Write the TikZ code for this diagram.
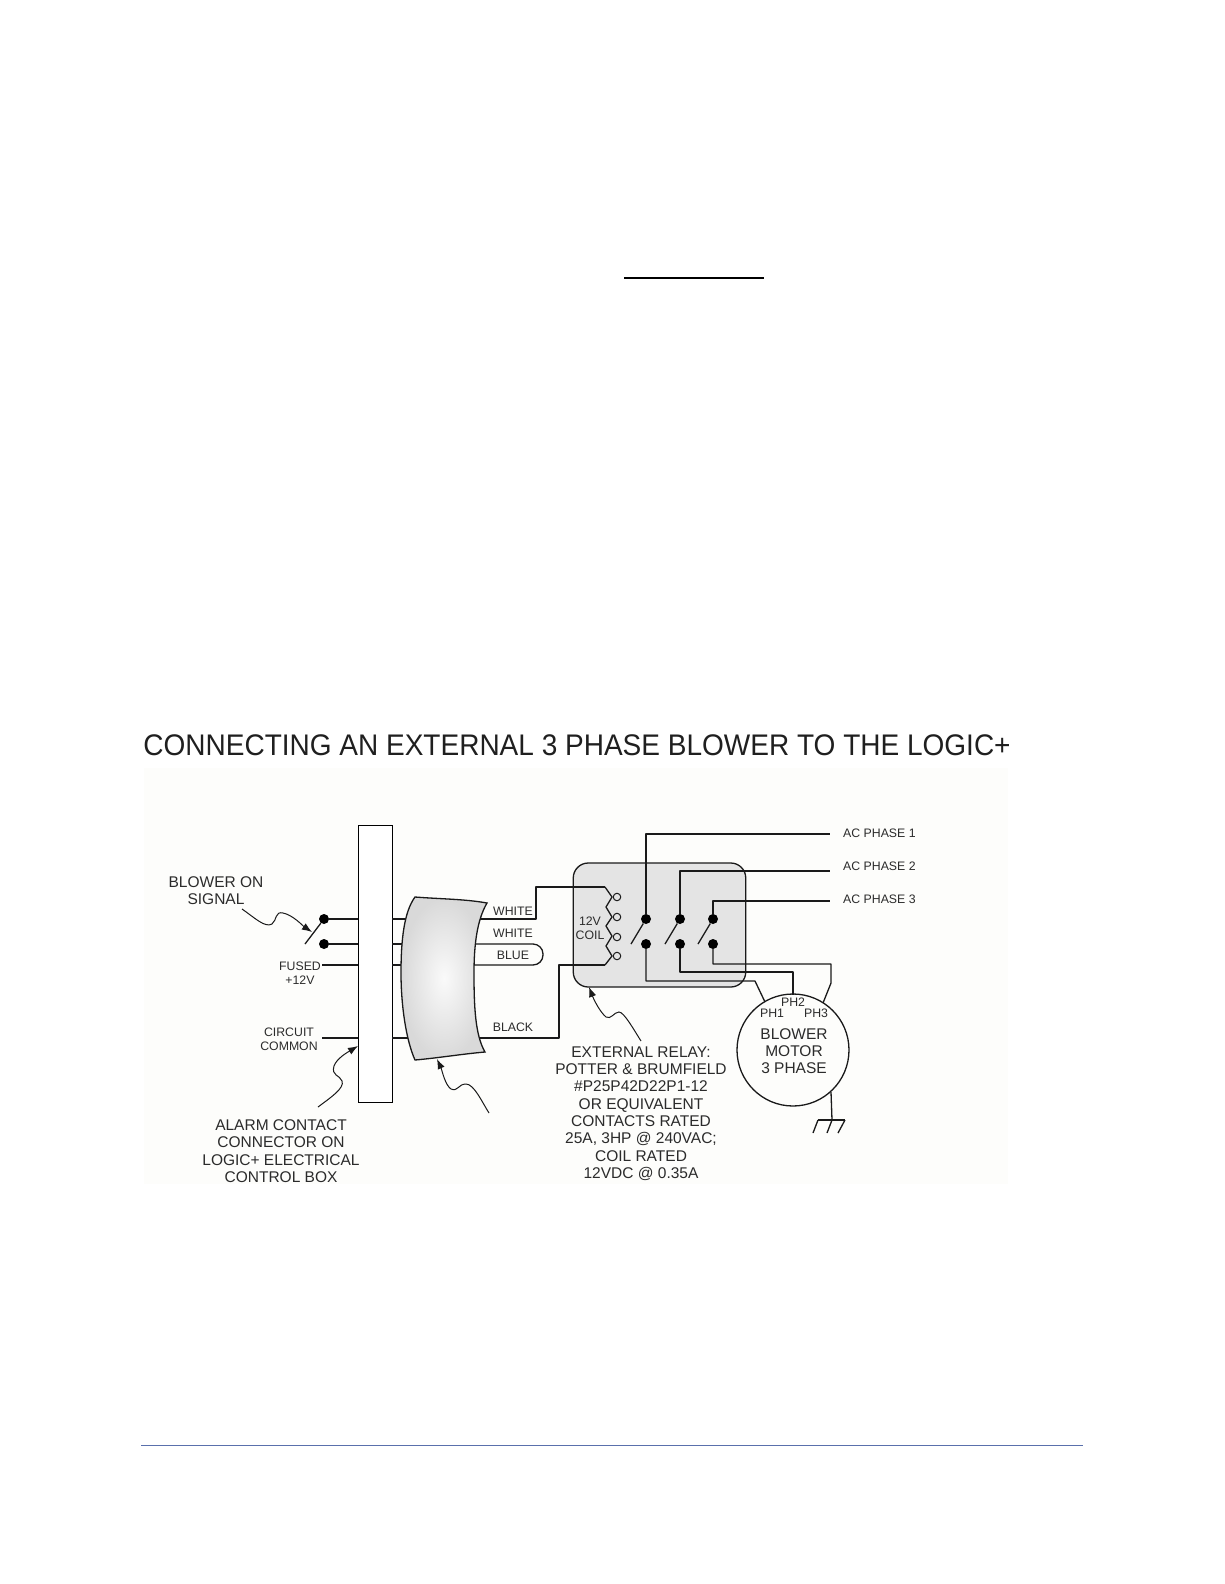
\documentclass[tikz,border=0pt]{standalone}
\usepackage{fontspec}
\setmainfont{Liberation Sans}
\usetikzlibrary{arrows.meta}
\definecolor{inkgray}{HTML}{2B2B2B}
\definecolor{wiregray}{HTML}{1A1A1A}
\definecolor{relaygray}{HTML}{E4E4E4}
\definecolor{paper}{HTML}{FDFDFB}
\definecolor{rulecolor}{HTML}{5A70AC}
\tikzset{
  wire/.style={draw=wiregray,line width=1.3pt,line join=round},
  pointer/.style={draw=wiregray,line width=1pt,-{Latex[length=10pt,width=7.5pt]}},
  contact/.style={circle,fill=black,inner sep=0pt,minimum size=10pt},
  tap/.style={circle,draw=wiregray,fill=relaygray,line width=1pt,inner sep=0pt,minimum size=7.5pt},
  biglabel/.style={inkgray,inner sep=0pt,align=center,font=\fontsize{15.5}{17.3}\selectfont},
  smalllabel/.style={inkgray,inner sep=0pt,align=center,font=\fontsize{12.3}{13.6}\selectfont}
}
\begin{document}
\begin{tikzpicture}[x=1pt,y=-1pt]
\useasboundingbox (0,0) rectangle (1224,1584);
\fill [paper] (144,768) rectangle (1008,1184);
\draw [black,line width=2pt] (624,278) -- (764,278);
\draw [rulecolor,line width=1pt] (141,1445) -- (1083,1445);
\node (title) [inner sep=0pt,xscale=.94,text=black!88,font=\fontsize{29.8}{32}\selectfont] at (577,745) {CONNECTING AN EXTERNAL 3 PHASE BLOWER TO THE LOGIC+};

\node (conbox) [draw=black,line width=1pt,fill=white,minimum width=34pt,minimum height=277pt,inner sep=0pt] at (375,963.5) {};

\node (sigtop) [contact] at (324,919) {};
\node (sigbot) [contact] at (324,944) {};
\coordinate (blade) at (305,944);
\coordinate (fusedend) at (322,965);
\coordinate (commonend) at (322,1038);
\draw [wire] (sigtop) -- (sigtop -| conbox.west);
\draw [wire] (sigbot) -- (sigbot -| conbox.west);
\draw [wire] (blade) -- (sigtop);
\draw [wire] (fusedend) -- (fusedend -| conbox.west);
\draw [wire] (commonend) -- (commonend -| conbox.west);

\draw [wire] (392,919) -- (410,919);
\draw [wire] (392,944) -- (410,944);
\draw [wire] (392,965) -- (410,965);
\draw [wire] (392,1038) -- (410,1038);

\node (relay) [draw=wiregray,line width=1.3pt,fill=relaygray,rounded corners=15pt,minimum width=172.5pt,minimum height=124pt,inner sep=0pt] at (659.5,925) {};

\draw [wire] (470,919) -- (536,919) -- (536,887) -- (605,887);
\draw [wire,rounded corners=10pt] (470,944) -- (543,944) -- (543,965) -- (470,965);
\draw [wire] (470,1038) -- (559,1038) -- (559,965) -- (605,965);

\path [shade,inner color=gray!4,outer color=gray!30]
  (415,897) .. controls (440,899) and (465,899) .. (487,903)
  .. controls (477,920) and (474,945) .. (474,973)
  .. controls (474,1005) and (475,1035) .. (485,1052)
  .. controls (462,1054) and (438,1058) .. (415,1060)
  .. controls (406,1040) and (401,1005) .. (401,973)
  .. controls (401,940) and (404,912) .. (415,897) -- cycle;
\draw [draw=wiregray,line width=1.3pt]
  (415,897) .. controls (440,899) and (465,899) .. (487,903)
  .. controls (477,920) and (474,945) .. (474,973)
  .. controls (474,1005) and (475,1035) .. (485,1052)
  .. controls (462,1054) and (438,1058) .. (415,1060)
  .. controls (406,1040) and (401,1005) .. (401,973)
  .. controls (401,940) and (404,912) .. (415,897) -- cycle;

\draw [wire] (605,887) -- (612,897) -- (606,907) -- (612,917) -- (606,926) -- (612,936) -- (606,946) -- (612,956) -- (605,965);
\node (tapa) [tap] at (617,897) {};
\node (tapb) [tap] at (617,917) {};
\node (tapc) [tap] at (617,937) {};
\node (tapd) [tap] at (617,956) {};

\node (oneup) [contact] at (646,919) {};
\node (twoup) [contact] at (680,919) {};
\node (threeup) [contact] at (713,919) {};
\node (onedn) [contact] at (646,944) {};
\node (twodn) [contact] at (680,944) {};
\node (threedn) [contact] at (713,944) {};
\coordinate (bladeone) at (631,944);
\coordinate (bladetwo) at (665,944);
\coordinate (bladethree) at (698,944);
\draw [wire] (bladeone) -- (oneup);
\draw [wire] (bladetwo) -- (twoup);
\draw [wire] (bladethree) -- (threeup);

\node (phaseone) [smalllabel,anchor=west] at (843,833) {AC PHASE 1};
\node (phasetwo) [smalllabel,anchor=west] at (843,866) {AC PHASE 2};
\node (phasethree) [smalllabel,anchor=west] at (843,899) {AC PHASE 3};
\draw [wire] (oneup) -- (646,834) -- (830,834);
\draw [wire] (twoup) -- (680,871) -- (830,871);
\draw [wire] (threeup) -- (713,901) -- (830,901);

\node (motor) [circle,draw=wiregray,line width=1.3pt,fill=paper,minimum size=112pt,inner sep=0pt] at (793,1050) {};
\draw [wire] (onedn) -- (646,981) -- (755,981) -- (765,1002);
\draw [wire] (twodn) -- (680,972) -- (793,972) -- (793,995);
\draw [wire] (threedn) -- (713,964) -- (831,964) -- (831,983) -- (823,1003);

\node (phone) [smalllabel] at (772,1013) {PH1};
\node (phtwo) [smalllabel] at (793,1002) {PH2};
\node (phthree) [smalllabel] at (816,1013) {PH3};
\node (motortext) [biglabel] at (794,1051) {BLOWER\\MOTOR\\3 PHASE};

\coordinate (gndtop) at (831,1092);
\coordinate (gndmid) at (832,1120);
\draw [wire] (gndtop) -- (gndmid);
\draw [wire] (818,1120) -- (845,1120);
\draw [wire] (818,1120) -- (813,1133);
\draw [wire] (832,1120) -- (827,1133);
\draw [wire] (845,1120) -- (838,1133);

\node (blowersig) [biglabel] at (216,890.5) {BLOWER ON\\SIGNAL};
\node (fused) [smalllabel] at (300,973) {FUSED\\+12V};
\node (common) [smalllabel] at (289,1039.5) {CIRCUIT\\COMMON};
\node (alarm) [biglabel] at (281,1151) {ALARM CONTACT\\CONNECTOR ON\\LOGIC+ ELECTRICAL\\CONTROL BOX};
\node (whiteone) [smalllabel] at (513,911) {WHITE};
\node (whitetwo) [smalllabel] at (513,933) {WHITE};
\node (blue) [smalllabel] at (513,955) {BLUE};
\node (black) [smalllabel] at (513,1027) {BLACK};
\node (coil) [smalllabel] at (590,928) {12V\\COIL};
\node (extrelay) [biglabel] at (641,1113.5) {EXTERNAL RELAY:\\POTTER \& BRUMFIELD\\\#P25P42D22P1-12\\OR EQUIVALENT\\CONTACTS RATED\\25A, 3HP @ 240VAC;\\COIL RATED\\12VDC @ 0.35A};

\coordinate (sigtail) at (242,909);
\coordinate (alarmtail) at (318,1107);
\coordinate (shelltail) at (489,1113);
\coordinate (relaytail) at (641,1041);
\draw [pointer] (sigtail) .. controls (255,918) and (265,928) .. (272,924)
  .. controls (277,920) and (275,911) .. (283,913) .. controls (293,915) and (303,926) .. (312,932);
\draw [pointer] (alarmtail) .. controls (330,1098) and (345,1088) .. (342,1081)
  .. controls (340,1075) and (331,1076) .. (334,1066) .. controls (337,1058) and (348,1052) .. (358,1046);
\draw [pointer] (shelltail) .. controls (482,1102) and (474,1084) .. (466,1084)
  .. controls (458,1084) and (458,1092) .. (451,1089) .. controls (445,1085) and (442,1070) .. (437,1059);
\draw [pointer] (relaytail) .. controls (634,1030) and (624,1012) .. (619,1012)
  .. controls (614,1012) and (611,1020) .. (606,1017) .. controls (600,1012) and (594,1000) .. (589,987);
\end{tikzpicture}
\end{document}
